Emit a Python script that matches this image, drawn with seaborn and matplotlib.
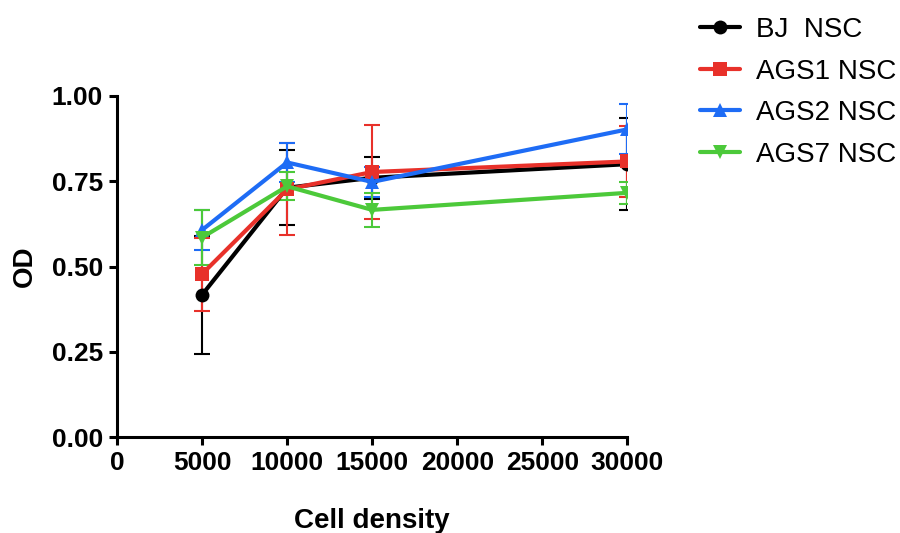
import numpy as np
import pandas as pd
import matplotlib
matplotlib.use('Agg')
import matplotlib.pyplot as plt
import seaborn as sns

cell_density = [5000, 10000, 15000, 30000]
groups = ['BJ  NSC', 'AGS1 NSC', 'AGS2 NSC', 'AGS7 NSC']
bj_od = [0.417, 0.731, 0.760, 0.800]
bj_err = [0.173, 0.110, 0.062, 0.134]
ags1_od = [0.478, 0.726, 0.777, 0.808]
ags1_err = [0.107, 0.135, 0.138, 0.105]
ags2_od = [0.607, 0.805, 0.748, 0.902]
ags2_err = [0.060, 0.057, 0.045, 0.073]
ags7_od = [0.585, 0.735, 0.666, 0.716]
ags7_err = [0.080, 0.041, 0.050, 0.033]

colors = ['#000000', '#E8312A', '#1E6CF5', '#4CC93A']
markers = ['o', 's', '^', 'v']

od_values = [bj_od, ags1_od, ags2_od, ags7_od]
od_errors = [bj_err, ags1_err, ags2_err, ags7_err]

df = pd.DataFrame({
    'Cell density': np.tile(cell_density, len(groups)),
    'OD': np.concatenate(od_values),
    'err': np.concatenate(od_errors),
    'Group': np.repeat(groups, len(cell_density)),
})

sns.set_style('ticks')
plt.rcParams['font.family'] = ['Liberation Sans', 'DejaVu Sans']
plt.rcParams['text.color'] = 'black'
plt.rcParams['axes.labelcolor'] = 'black'
plt.rcParams['axes.edgecolor'] = 'black'
plt.rcParams['xtick.color'] = 'black'
plt.rcParams['ytick.color'] = 'black'

fig = plt.figure(figsize=(9, 5.33), dpi=100)
ax = fig.add_axes([0.13, 0.18, 0.567, 0.64])

for g, c in zip(groups, colors):
    sub = df[df['Group'] == g]
    ax.errorbar(sub['Cell density'], sub['OD'], yerr=sub['err'], fmt='none',
                ecolor=c, elinewidth=1.5, capsize=6, capthick=1.5, zorder=2)

sns.lineplot(data=df, x='Cell density', y='OD', hue='Group', style='Group',
             hue_order=groups, style_order=groups, palette=colors,
             markers=markers, dashes=False, linewidth=3, markersize=10,
             markeredgewidth=0, ax=ax, zorder=3)

ax.set_xlim(0, 30000)
ax.set_ylim(0, 1.0)
ax.set_xticks([0, 5000, 10000, 15000, 20000, 25000, 30000])
ax.set_yticks([0, 0.25, 0.5, 0.75, 1.0])
ax.set_yticklabels(['0.00', '0.25', '0.50', '0.75', '1.00'])
ax.tick_params(axis='both', width=2.2, length=6, labelsize=19, direction='out', pad=4)
for lab in ax.get_xticklabels() + ax.get_yticklabels():
    lab.set_fontweight('bold')
for s in ['left', 'bottom']:
    ax.spines[s].set_linewidth(2.2)
sns.despine(ax=ax)
ax.set_xlabel('Cell density', fontsize=20, fontweight='bold', labelpad=24)
ax.set_ylabel('OD', fontsize=20, fontweight='bold', labelpad=10)

handles, labels = ax.get_legend_handles_labels()
ax.get_legend().remove()
fig.legend(handles, labels, loc='upper left', bbox_to_anchor=(0.75, 1.015),
           frameon=False, fontsize=20, handlelength=1.45, labelspacing=0.56,
           handletextpad=0.55)

fig.savefig('out.png', dpi=100)
